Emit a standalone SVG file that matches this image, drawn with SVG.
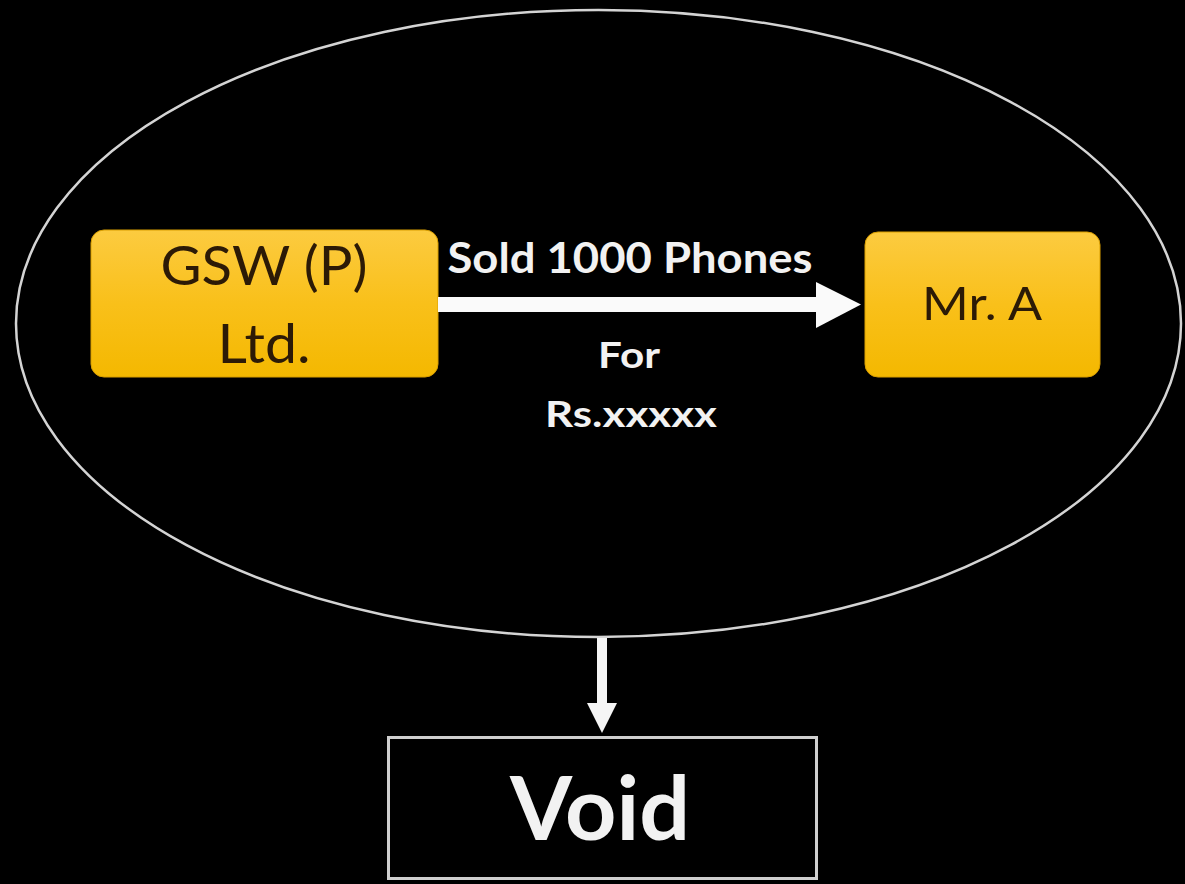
<svg xmlns="http://www.w3.org/2000/svg" width="1185" height="884" viewBox="0 0 1185 884">
  <style>
    .dark { font-family: Lato, "Open Sans", "Liberation Sans", sans-serif; fill: #2c1a06; text-anchor: middle; }
    .light { font-family: Lato, "Open Sans", "Liberation Sans", sans-serif; fill: #f2f2f2; text-anchor: middle; font-weight: bold; }
    .gold { fill: url(#goldFill); stroke: #d99e00; stroke-width: 1; }
    .outline { fill: none; stroke: #d4d4d4; stroke-width: 2.5; }
  </style>
  <defs>
    <linearGradient id="goldFill" x1="0" y1="0" x2="0" y2="1">
      <stop offset="0" stop-color="#fccb40"/>
      <stop offset="0.5" stop-color="#f9c01a"/>
      <stop offset="1" stop-color="#f4b800"/>
    </linearGradient>
  </defs>

  <rect width="1185" height="884" fill="#000"/>

  <!-- boundary of the transaction -->
  <g id="scope">
    <ellipse class="outline" cx="598.5" cy="323.5" rx="582.5" ry="313.5"/>
  </g>

  <g id="seller">
    <rect class="gold" x="91" y="230" width="347" height="147" rx="13"/>
    <text class="dark" x="264" y="285" font-size="55" textLength="207" lengthAdjust="spacingAndGlyphs">GSW (P)</text>
    <text class="dark" x="264" y="363" font-size="55" textLength="93" lengthAdjust="spacingAndGlyphs">Ltd.</text>
  </g>

  <g id="buyer">
    <rect class="gold" x="865" y="232" width="235" height="145" rx="13"/>
    <text class="dark" x="982" y="320" font-size="46" textLength="120" lengthAdjust="spacingAndGlyphs">Mr. A</text>
  </g>

  <g id="result">
    <rect x="388.5" y="737.5" width="428" height="141" fill="#000" stroke="#cfcfcf" stroke-width="3"/>
    <text class="light" x="600" y="840" font-size="88" textLength="180" lengthAdjust="spacingAndGlyphs">Void</text>
  </g>

  <g id="connectors">
    <!-- sale arrow -->
    <rect x="438" y="297" width="380" height="15" fill="#fafafa"/>
    <polygon points="816,282 861,304.5 816,328" fill="#fafafa"/>
    <!-- outcome arrow -->
    <rect x="597" y="638" width="10" height="70" fill="#f5f5f5"/>
    <polygon points="587,703 617,703 602,733" fill="#f5f5f5"/>
  </g>

  <g id="labels">
    <text class="light" x="630" y="273" font-size="42" textLength="365" lengthAdjust="spacingAndGlyphs">Sold 1000 Phones</text>
    <text class="light" x="629" y="368" font-size="36" textLength="62" lengthAdjust="spacingAndGlyphs">For</text>
    <text class="light" x="631" y="427" font-size="36" textLength="172" lengthAdjust="spacingAndGlyphs">Rs.xxxxx</text>
  </g>
</svg>
